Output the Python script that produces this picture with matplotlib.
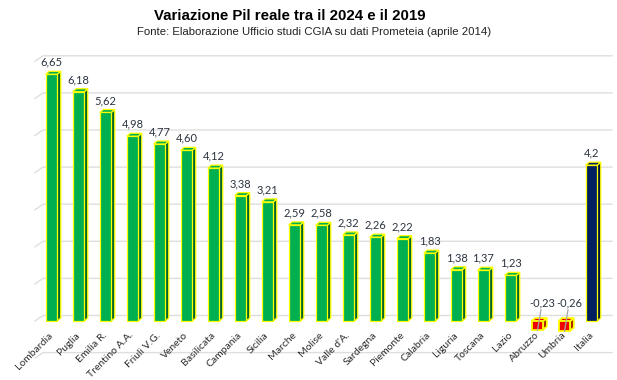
import matplotlib
matplotlib.use("Agg")
import matplotlib.pyplot as plt

regions = ["Lombardia", "Puglia", "Emilia R.", "Trentino A.A.", "Friuli V.G.", "Veneto", "Basilicata",
           "Campania", "Sicilia", "Marche", "Molise", "Valle d'A.", "Sardegna", "Piemonte", "Calabria",
           "Liguria", "Toscana", "Lazio", "Abruzzo", "Umbria", "Italia"]
values = [6.65, 6.18, 5.62, 4.98, 4.77, 4.60, 4.12, 3.38, 3.21, 2.59, 2.58, 2.32, 2.26, 2.22, 1.83,
          1.38, 1.37, 1.23, -0.23, -0.26, 4.2]
labels = ["6,65", "6,18", "5,62", "4,98", "4,77", "4,60", "4,12", "3,38", "3,21", "2,59", "2,58", "2,32",
          "2,26", "2,22", "1,83", "1,38", "1,37", "1,23", "-0,23", "-0,26", "4,2"]
grid_levels = [-1, 0, 1, 2, 3, 4, 5, 6, 7]

W, H = 617, 380
PXX, PXY = 27.0, 37.1
X0, Y0 = 51.5, 321.0
AL, AR, AT, AB = 30, 612, 40, 331

fig = plt.figure(figsize=(W / 100, H / 100), dpi=100, facecolor="white")
ax = fig.add_axes([AL / W, 1 - AB / H, (AR - AL) / W, (AB - AT) / H])
ax.set_xlim((AL - X0) / PXX, (AR - X0) / PXX)
ax.set_ylim((Y0 - AB) / PXY, (Y0 - AT) / PXY)
for s in ax.spines.values():
    s.set_visible(False)
ax.set_yticks([])
ax.patch.set_alpha(0)

wall_dx, wall_dy = 8 / PXX, 5.5 / PXY
bar_dx, bar_dy = 3.5 / PXX, 3 / PXY
w = 11.5 / PXX
GRID = "#dedede"
for lv in grid_levels:
    left = (35 - X0) / PXX
    ax.plot([left, left + wall_dx, (AR - X0) / PXX], [lv, lv + wall_dy, lv + wall_dy],
            color=GRID, lw=1.0, zorder=1, clip_on=False, solid_joinstyle="miter")

YEL = "#ffff00"
for i, (r, v, l) in enumerate(zip(regions, values, labels)):
    if r == "Italia":
        front, side = "#002060", "#001440"
    elif v < 0:
        front, side = "#f00000", "#a00000"
    else:
        front, side = "#00b050", "#00662c"
    x0, x1 = i - w / 2, i + w / 2
    ew = 1.3 if v < 0 else 0.9
    ax.fill([x1, x1 + bar_dx, x1 + bar_dx, x1], [min(v, 0), min(v, 0) + bar_dy, max(v, 0) + bar_dy, max(v, 0)],
            facecolor=side, edgecolor=YEL, lw=ew, zorder=3, clip_on=False)
    top = max(v, 0)
    ax.fill([x0, x1, x1 + bar_dx, x0 + bar_dx], [top, top, top + bar_dy, top + bar_dy],
            facecolor=front, edgecolor=YEL, lw=ew, zorder=3, clip_on=False)
    ax.bar(i, v, width=w, color=front, edgecolor=YEL, linewidth=ew, zorder=4, clip_on=False)
    if v < 0:
        ax.plot([i + 0.13, i], [0.3, v - 0.02], color="#a6a6a6", lw=0.9, zorder=5, clip_on=False)
        ax.text(i + 0.17, 0.485, l, ha="center", va="center", fontsize=8, family="Lato", color="#2b3440", zorder=6)
    else:
        ax.text(i, v + 12 / PXY, l, ha="center", va="center",
                fontsize=8, family="Lato", color="#2b3440", zorder=6)

ax.set_xticks(range(len(regions)))
ax.set_xticklabels(regions, rotation=45, ha="right", va="center", rotation_mode="anchor",
                   fontsize=7.5, family="Lato", color="#2b2b2b")
ax.tick_params(axis="x", length=0, pad=2)

fig.text(289.5 / W, 1 - 16 / H, "Variazione Pil reale tra il 2024 e il 2019", ha="center", va="center",
         fontsize=10.85, fontweight="bold", family="Liberation Sans", color="black")
fig.text(314 / W, 1 - 32 / H, "Fonte: Elaborazione Ufficio studi CGIA su dati Prometeia (aprile 2014)",
         ha="center", va="center", fontsize=8.17, family="Liberation Sans", color="#222222")
fig.savefig("out.png", dpi=100)
